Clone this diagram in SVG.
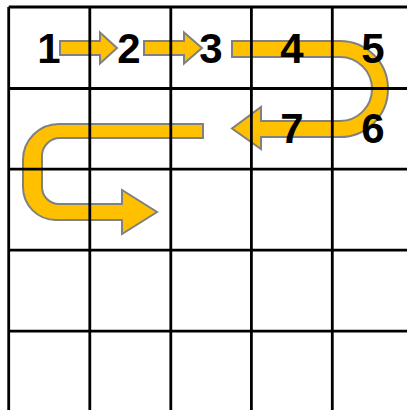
<svg xmlns="http://www.w3.org/2000/svg" width="407" height="410" viewBox="0 0 407 410">
<style>
.arrow{fill:#FFC000;stroke:#808080;stroke-width:2;stroke-linejoin:miter}
.grid{stroke:#000;stroke-width:2.8;fill:none}
.num{font-family:"Liberation Sans",Arial,sans-serif;font-weight:bold;font-size:42px;fill:#000;text-anchor:middle}
</style>
<rect width="407" height="410" fill="#fff"/>
<g id="connectors">
<path class="arrow" d="M60,41 H100 V32.5 L117,48 L100,63.5 V55 H60 Z"/>
<path class="arrow" d="M144,41 H184 V32.5 L202,48 L184,63.5 V55 H144 Z"/>
<path class="arrow" d="M232,41 H340 A48,48 0 0 1 340,137 H261 V149 L232,128.5 L261,107 V121 H340 A32,32 0 0 0 340,57 H232 Z"/>
<path class="arrow" d="M203,124 H59 A36,36 0 0 0 23,160 V187 A33,33 0 0 0 56,220 H122 V234 L157,212 L122,190 V204 H59 A17,17 0 0 1 42,187 V155 A18,18 0 0 1 60,138 H203 Z"/>
</g>
<g id="grid" class="grid">
<line x1="8.7" y1="7" x2="8.7" y2="410"/>
<line x1="89.8" y1="7" x2="89.8" y2="410"/>
<line x1="170.8" y1="7" x2="170.8" y2="410"/>
<line x1="251.4" y1="7" x2="251.4" y2="410"/>
<line x1="332.3" y1="7" x2="332.3" y2="410"/>
<line x1="8.7" y1="7" x2="407" y2="7"/>
<line x1="8.7" y1="88.5" x2="407" y2="88.5"/>
<line x1="8.7" y1="169.2" x2="407" y2="169.2"/>
<line x1="8.7" y1="250.2" x2="407" y2="250.2"/>
<line x1="8.7" y1="331.2" x2="407" y2="331.2"/>
</g>
<g id="n1"><text class="num" x="49" y="63">1</text></g>
<g id="n2"><text class="num" x="129" y="63">2</text></g>
<g id="n3"><text class="num" x="211" y="63">3</text></g>
<g id="n4"><text class="num" x="292" y="63">4</text></g>
<g id="n5"><text class="num" x="373" y="63">5</text></g>
<g id="n6"><text class="num" x="373" y="143">6</text></g>
<g id="n7"><text class="num" x="292" y="143">7</text></g>
</svg>
